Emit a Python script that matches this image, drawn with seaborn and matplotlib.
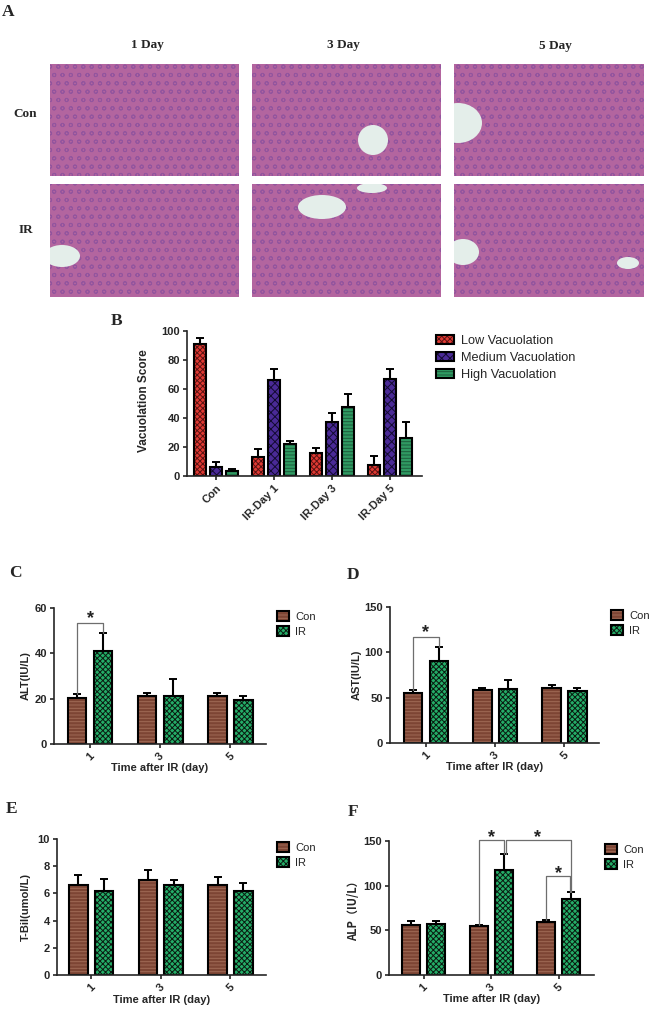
import numpy as np
import pandas as pd
import matplotlib
matplotlib.use("Agg")
import matplotlib.pyplot as plt
from matplotlib.patches import Ellipse, Rectangle, Patch
from matplotlib.legend_handler import HandlerTuple
import seaborn as sns

# ---------- data ----------
b_groups = ["Con", "IR-Day 1", "IR-Day 3", "IR-Day 5"]
b_series = ["Low Vacuolation", "Medium Vacuolation", "High Vacuolation"]
b_low = [91, 13, 16, 7.5]
b_low_top = [95.5, 18.5, 19, 13.5]
b_med = [6, 66, 37, 67]
b_med_top = [9.5, 73.5, 43.5, 74]
b_high = [3.5, 22, 47.5, 26]
b_high_top = [4.5, 24, 56.5, 37.5]

days = ["1", "3", "5"]
groups = ["Con", "IR"]
alt_con = [20.5, 21, 21.2]
alt_con_top = [22, 22.7, 22.7]
alt_ir = [41, 21, 19.3]
alt_ir_top = [49, 28.5, 21]
ast_con = [55, 58, 60.5]
ast_con_top = [58, 60.5, 63.5]
ast_ir = [90, 60, 57]
ast_ir_top = [105.5, 69, 61]
tbil_con = [6.6, 7.0, 6.6]
tbil_con_top = [7.35, 7.7, 7.2]
tbil_ir = [6.2, 6.6, 6.2]
tbil_ir_top = [7.05, 7.0, 6.8]
alp_con = [56.5, 54.5, 59]
alp_con_top = [60.5, 56, 62]
alp_ir = [57, 118, 85]
alp_ir_top = [60.5, 136, 93]

W, H = 650, 1011
sns.set_style("ticks")
plt.rcParams["font.family"] = ["Liberation Sans", "DejaVu Sans"]
plt.rcParams["hatch.linewidth"] = 0.7
fig = plt.figure(figsize=(W / 100, H / 100), dpi=100, facecolor="white")


def pax(l, t, r, b):
    return fig.add_axes([l / W, 1 - b / H, (r - l) / W, (b - t) / H])


def ftext(x, y, s, **kw):
    kw.setdefault("ha", "center")
    kw.setdefault("va", "center")
    fig.text(x / W, 1 - y / H, s, **kw)


SERIF = ["Liberation Serif", "DejaVu Serif"]
for s, x, y in [("A", 8, 12), ("B", 117, 321), ("C", 15, 573), ("D", 353, 575), ("E", 12, 809), ("F", 353, 812)]:
    ftext(x, y, s, family=SERIF, fontweight="bold", fontsize=12.5)

# ---------- panel A: micrograph placeholders ----------
cols = [(50, 239), (252, 441), (454, 644)]
rows = [(64, 176), (184, 297)]
vessels = {
    (0, 0): [],
    (0, 1): [(373, 140, 30, 30)],
    (0, 2): [(458, 123, 48, 40)],
    (1, 0): [(62, 256, 36, 22)],
    (1, 1): [(322, 207, 48, 24), (372, 188, 30, 10)],
    (1, 2): [(463, 252, 32, 26), (628, 263, 22, 12)],
}
for i, (t, b) in enumerate(rows):
    for j, (l, r) in enumerate(cols):
        ax = pax(l, t, r, b)
        ax.set_xlim(l, r)
        ax.set_ylim(b, t)
        ax.set_xticks([])
        ax.set_yticks([])
        for sp in ax.spines.values():
            sp.set_visible(False)
        ax.add_patch(Rectangle((l, t), r - l, b - t, facecolor="#b3659f", edgecolor="none"))
        ax.add_patch(Rectangle((l, t), r - l, b - t, facecolor="none", edgecolor="#7d4a9e",
                               hatch="oo", linewidth=0, alpha=0.55))
        for (cx, cy, w, h) in vessels[(i, j)]:
            ax.add_patch(Ellipse((cx, cy), w, h, facecolor="#e4eeea", edgecolor="none"))

for s, x, y in [("1 Day", 147, 45), ("3 Day", 343, 45), ("5 Day", 555, 46), ("Con", 25, 114), ("IR", 26, 230)]:
    ftext(x, y, s, family=SERIF, fontweight="bold", fontsize=9.5)


# ---------- bar helper ----------
def bars(ax, cats, names, vals, tops, fills, hatches, hcols, width, gap, ymax, yticks, xlim, rot_kw):
    df = pd.DataFrame({
        "cat": [c for _ in names for c in cats],
        "grp": [n for n in names for _ in cats],
        "val": [v for vs in vals for v in vs],
    })
    sns.barplot(data=df, x="cat", y="val", hue="grp", order=cats, hue_order=names, palette=fills,
                width=width, gap=gap, saturation=1, linewidth=0, ax=ax, legend=False)
    centres = []
    for cont, vs, ts, hatch, hc in zip(ax.containers, vals, tops, hatches, hcols):
        xs = [p.get_x() + p.get_width() / 2 for p in cont.patches]
        centres.append(xs)
        for p in cont.patches:
            p.set_hatch(hatch)
            p.set_edgecolor(hc)
            p.set_linewidth(0)
            ax.add_patch(Rectangle((p.get_x(), 0), p.get_width(), p.get_height(), fill=False,
                                   edgecolor="black", linewidth=1.5, zorder=2))
        ax.errorbar(xs, vs, yerr=[np.zeros(len(vs)), np.array(ts) - np.array(vs)], fmt="none",
                    ecolor="black", elinewidth=1.5, capsize=3, capthick=1.4, zorder=1.5)
    ax.set_ylim(0, ymax)
    ax.set_xlim(*xlim)
    ax.set_yticks(yticks)
    ax.set_xlabel("")
    ax.set_ylabel("")
    sns.despine(ax=ax)
    for sp in ("left", "bottom"):
        ax.spines[sp].set_linewidth(1.2)
    ax.tick_params(length=3, width=1.2, labelsize=8, pad=2)
    for lab in ax.get_yticklabels():
        lab.set_fontweight("bold")
    for lab in ax.get_xticklabels():
        lab.set_fontweight("bold")
        lab.set(**rot_kw)
    ax._series = (names, fills, hatches, hcols)
    return centres


def leg(ax, x, y, fs, hl, hh, sp):
    names, fills, hatches, hcols = ax._series
    h = [(Patch(facecolor=f, edgecolor=hc, hatch=ha, linewidth=0),
          Patch(fill=False, edgecolor="black", linewidth=1.5))
         for f, ha, hc in zip(fills, hatches, hcols)]
    ax.legend(h, names, loc="upper left", bbox_to_anchor=(x / W, 1 - y / H), bbox_transform=fig.transFigure,
              frameon=False, fontsize=fs, handlelength=hl, handleheight=hh, handletextpad=0.55,
              labelspacing=sp, borderpad=0, borderaxespad=0,
              handler_map={tuple: HandlerTuple(ndivide=1, pad=0)})


def labels(ax, ylabel, yx, xlabel=None, xy=None, box=None):
    l, t, r, b = box
    ax.set_ylabel(ylabel, fontweight="bold", fontsize=8)
    ax.yaxis.set_label_coords((yx - l) / (r - l), 0.5)
    if xlabel:
        ax.set_xlabel(xlabel, fontweight="bold", fontsize=8)
        ax.xaxis.set_label_coords(0.5, -(xy - b) / (b - t))
        ax.xaxis.label.set_va("center")


def bracket(ax, x0, x1, top, y0, y1):
    ax.plot([x0, x0, x1, x1], [y0, top, top, y1], color="#6e6e6e", lw=0.9, clip_on=False, zorder=4)


def star(ax, x, y):
    ax.text(x, y, "*", ha="center", va="center", fontsize=13, fontweight="bold", clip_on=False,
            color="#222222")


# ---------- panel B ----------
box = (187, 331, 422, 476)
ax = pax(*box)
rot_b = dict(rotation=45, ha="right", va="top", rotation_mode="anchor")
bars(ax, b_groups, b_series, [b_low, b_med, b_high], [b_low_top, b_med_top, b_high_top],
     ["#e03a33", "#4a2a96", "#2f9a62"], ["xxxxxx", "xxxx", "-----"], ["#5a1212", "#120a30", "#1d5c3c"],
     0.83, 0.27, 100, [0, 20, 40, 60, 80, 100], (-0.5, 3.55), rot_b)
labels(ax, "Vacuolation Score", 150, box=box)
ax.yaxis.label.set_fontsize(8.5)
ax.yaxis.set_label_coords((150 - 187) / (422 - 187), 0.52)
leg(ax, 436, 335, 9.2, 1.42, 0.7, 0.4)

# ---------- panels C-F ----------
fills2 = ["#7d4534", "#24ad68"]
hatch2 = ["-----", "xxxxxx"]
hcol2 = ["#a06a55", "#0a1a10"]
rot_c = dict(rotation=45, ha="center", va="top")

# C
box = (54, 608, 266, 744)
ax = pax(*box)
c = bars(ax, days, groups, [alt_con, alt_ir], [alt_con_top, alt_ir_top], fills2, hatch2, hcol2,
         0.743, 0.28, 60, [0, 20, 40, 60], (-0.514, 2.51), rot_c)
labels(ax, "ALT(IU/L)", 31, "Time after IR (day)", 768, box)
leg(ax, 277, 611, 8, 1.1, 1.0, 0.42)
bracket(ax, c[0][0], c[1][0], 53.4, alt_con_top[0], alt_ir_top[0])
star(ax, (c[0][0] + c[1][0]) / 2, 55.5)

# D
box = (390, 607, 599, 743)
ax = pax(*box)
c = bars(ax, days, groups, [ast_con, ast_ir], [ast_con_top, ast_ir_top], fills2, hatch2, hcol2,
         0.743, 0.28, 150, [0, 50, 100, 150], (-0.52, 2.5), rot_c)
labels(ax, "AST(IU/L)", 362, "Time after IR (day)", 767, box)
leg(ax, 611, 610, 8, 1.1, 1.0, 0.42)
bracket(ax, c[0][0], c[1][0], 117, ast_con_top[0], ast_ir_top[0])
star(ax, (c[0][0] + c[1][0]) / 2, 122)

# E
box = (57, 839, 266, 975)
ax = pax(*box)
bars(ax, days, groups, [tbil_con, tbil_ir], [tbil_con_top, tbil_ir_top], fills2, hatch2, hcol2,
     0.743, 0.28, 10, [0, 2, 4, 6, 8, 10], (-0.49, 2.51), rot_c)
labels(ax, "T-Bil(umol/L)", 31, "Time after IR (day)", 1000, box)
leg(ax, 277, 842, 8, 1.1, 1.0, 0.42)

# F
box = (389, 841, 594, 975)
ax = pax(*box)
c = bars(ax, days, groups, [alp_con, alp_ir], [alp_con_top, alp_ir_top], fills2, hatch2, hcol2,
         0.743, 0.28, 150, [0, 50, 100, 150], (-0.51, 2.52), rot_c)
labels(ax, "ALP\uff08IU/L\uff09", 360, "Time after IR (day)", 999, box)
ax.yaxis.label.set_family(["Noto Sans CJK SC", "Liberation Sans"])
ax.yaxis.label.set_fontweight("bold")
leg(ax, 605, 844, 8, 1.1, 1.0, 0.42)
off = 0.035
bracket(ax, c[0][1], c[1][1], 151, alp_con_top[1], alp_ir_top[1])
bracket(ax, c[1][1] + off, c[1][2], 151, alp_ir_top[1], alp_ir_top[2])
bracket(ax, c[0][2], c[1][2] - off / 2, 111, alp_con_top[2], alp_ir_top[2])
star(ax, (c[0][1] + c[1][1]) / 2, 154)
star(ax, (c[1][1] + c[1][2]) / 2, 154)
star(ax, (c[0][2] + c[1][2]) / 2, 113)

fig.savefig("out.png", dpi=100, facecolor="white")
